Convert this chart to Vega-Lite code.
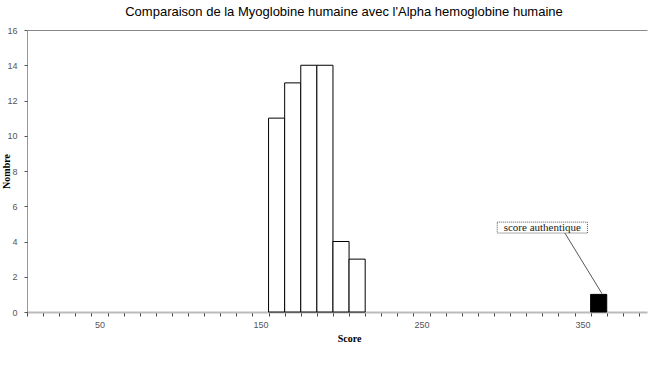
{
  "$schema": "https://vega.github.io/schema/vega-lite/v6.json",
  "width": 620,
  "height": 282,
  "autosize": "none",
  "padding": {"left": 27, "top": 30, "right": 3, "bottom": 55},
  "background": "white",
  "title": {
    "text": "Comparaison de la Myoglobine humaine avec l'Alpha hemoglobine humaine",
    "font": "Liberation Sans",
    "fontSize": 13,
    "fontWeight": "normal",
    "color": "black",
    "anchor": "middle",
    "dx": 7,
    "offset": 7
  },
  "config": {
    "view": {"stroke": null},
    "axis": {"labelFont": "Liberation Sans", "labelFontSize": 9, "labelColor": "#555", "titleFont": "Liberation Serif", "titleFontSize": 10, "titleFontWeight": "bold", "titleColor": "black"}
  },
  "datasets": {
    "bars": [
      {"score_min": 155, "score_max": 165, "count": 11, "type": "aleatoire"},
      {"score_min": 165, "score_max": 175, "count": 13, "type": "aleatoire"},
      {"score_min": 175, "score_max": 185, "count": 14, "type": "aleatoire"},
      {"score_min": 185, "score_max": 195, "count": 14, "type": "aleatoire"},
      {"score_min": 195, "score_max": 205, "count": 4, "type": "aleatoire"},
      {"score_min": 205, "score_max": 215, "count": 3, "type": "aleatoire"},
      {"score_min": 355, "score_max": 365, "count": 1, "type": "authentique"}
    ],
    "note": [
      {"label": "score authentique", "x1": 297, "x2": 353, "y1": 4.48, "y2": 5.1, "xc": 325, "yc": 4.79, "lx1": 339, "ly1": 4.48, "lx2": 362, "ly2": 1.05}
    ]
  },
  "layer": [
    {
      "data": {"name": "bars"},
      "mark": {"type": "bar", "stroke": "black", "strokeWidth": 1},
      "encoding": {
        "x": {
          "field": "score_min", "type": "quantitative",
          "scale": {"domain": [5, 390], "nice": false, "zero": false},
          "axis": {
            "title": "Score",
            "titleX": 322, "titleY": 21, "titleAngle": 0, "titleBaseline": "top",
            "values": [5,15,25,35,45,55,65,75,85,95,105,115,125,135,145,155,165,175,185,195,205,215,225,235,245,255,265,275,285,295,305,315,325,335,345,355,365,375,385,50,150,250,350],
            "tickCount": 200,
            "format": "d",
            "labelExpr": "datum.value % 100 == 50 ? datum.label : ''",
            "labelOverlap": false,
            "labelPadding": 4,
            "labelFlush": false,
            "tickOpacity": {"condition": {"test": "datum.value % 10 == 0", "value": 0}, "value": 1},
            "tickColor": "#444",
            "tickSize": 4,
            "domainColor": "#bbb",
            "domainWidth": 2,
            "grid": false
          }
        },
        "x2": {"field": "score_max"},
        "y": {
          "field": "count", "type": "quantitative",
          "scale": {"domain": [0, 16], "nice": false},
          "axis": {
            "title": "Nombre",
            "titleX": -21, "titleY": 141, "titleAngle": -90, "titleAlign": "center", "titleBaseline": "middle",
            "values": [0,2,4,6,8,10,12,14,16],
            "tickCount": 100,
            "format": "d",
            "labelOverlap": false,
            "labelPadding": 7,
            "tickSize": 3,
            "tickColor": "#555",
            "domainColor": "#333",
            "domainDash": [1, 1],
            "grid": true,
            "gridColor": "#888",
            "gridOpacity": {"condition": {"test": "datum.value == 16", "value": 1}, "value": 0}
          }
        },
        "y2": {"datum": 0},
        "fill": {
          "field": "type", "type": "nominal",
          "scale": {"domain": ["aleatoire", "authentique"], "range": ["white", "black"]},
          "legend": null
        }
      }
    },
    {
      "data": {"name": "note"},
      "mark": {"type": "rule", "color": "#555", "strokeWidth": 1},
      "encoding": {
        "x": {"field": "lx1", "type": "quantitative"},
        "y": {"field": "ly1", "type": "quantitative"},
        "x2": {"field": "lx2"},
        "y2": {"field": "ly2"}
      }
    },
    {
      "data": {"name": "note"},
      "mark": {"type": "rect", "fill": "white", "stroke": "#555", "strokeWidth": 1, "strokeDash": [1, 1]},
      "encoding": {
        "x": {"field": "x1", "type": "quantitative"},
        "x2": {"field": "x2"},
        "y": {"field": "y1", "type": "quantitative"},
        "y2": {"field": "y2"}
      }
    },
    {
      "data": {"name": "note"},
      "mark": {"type": "text", "font": "Liberation Serif", "fontSize": 11, "color": "#222", "align": "center", "baseline": "middle"},
      "encoding": {
        "x": {"field": "xc", "type": "quantitative"},
        "y": {"field": "yc", "type": "quantitative"},
        "text": {"field": "label"}
      }
    }
  ]
}
